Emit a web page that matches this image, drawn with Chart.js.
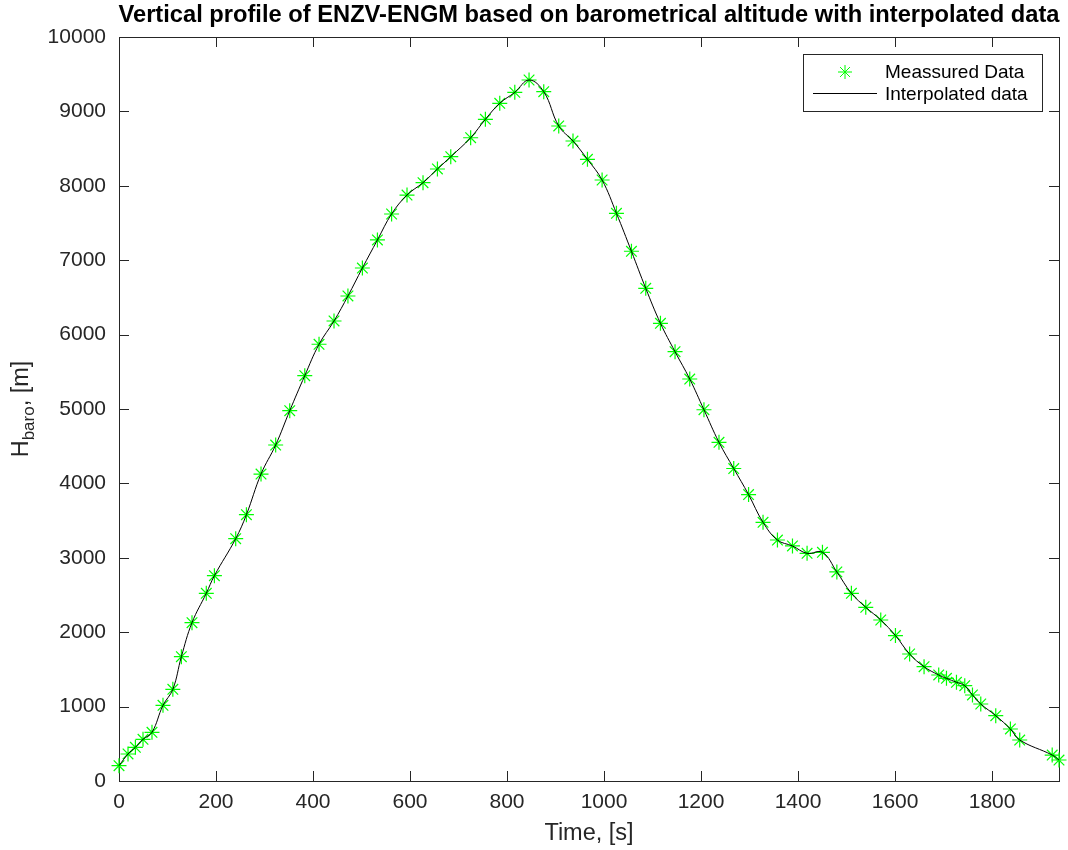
<!DOCTYPE html>
<html><head><meta charset="utf-8">
<script src="https://cdn.jsdelivr.net/npm/chart.js@4.4.1/dist/chart.umd.min.js"></script>
<style>html,body{margin:0;padding:0;background:#fff;}#wrap{width:1068px;height:850px;position:relative;}</style>
</head><body><div id="wrap"><canvas id="c" width="1068" height="850"></canvas></div>
<script>
// ---- data ----
const timeS = [0, 18.6, 33.8, 49.5, 68, 90.7, 111, 128.6, 150.5, 180, 196.7, 240.6, 262.7, 292.8, 323, 352, 383, 412.4, 443.3, 472, 501.8, 532.8, 562, 593.8, 626.8, 656.5, 684, 725, 755.4, 785, 816, 845.4, 875.7, 906.6, 936, 965.8, 996, 1025.6, 1056.5, 1086, 1116.3, 1146.4, 1176.7, 1206, 1237, 1267.4, 1298, 1327.8, 1357.5, 1388.5, 1418.6, 1450.3, 1480, 1510, 1539.6, 1570.5, 1600.8, 1630, 1659.8, 1690, 1706, 1726.6, 1743.7, 1759.6, 1776.7, 1807.6, 1837.8, 1857, 1924, 1938];
const altitudeM = [206, 363, 453, 560, 654, 1017, 1232, 1671, 2128, 2523, 2760, 3257, 3580, 4126, 4516, 4977, 5448, 5870, 6183, 6519, 6895, 7272, 7621, 7876, 8042, 8226, 8391, 8646, 8894, 9109, 9256, 9422, 9265, 8804, 8602, 8356, 8078, 7630, 7120, 6622, 6152, 5770, 5403, 4990, 4552, 4200, 3850, 3477, 3239, 3159, 3060, 3074, 2810, 2523, 2335, 2164, 1955, 1707, 1536, 1425, 1380, 1327, 1281, 1156, 1035, 878, 699, 551, 349, 282];
const xTicks = [0, 200, 400, 600, 800, 1000, 1200, 1400, 1600, 1800];
const yTicks = [0, 1000, 2000, 3000, 4000, 5000, 6000, 7000, 8000, 9000, 10000];
const xRange = [0, 1938];
const yRange = [0, 10000];
const titleText = 'Vertical profile of ENZV-ENGM based on barometrical altitude with interpolated data';
const xLabel = 'Time, [s]';
const yLabelMain = 'H', yLabelSub = 'baro', yLabelTail = ', [m]';
const legendLabels = ['Meassured Data', 'Interpolated data'];

// ---- styling ----
const FONT = '"Liberation Sans", Arial, Helvetica, sans-serif';
const AXC = '#262626';
const points = timeS.map((t, i) => ({x: t, y: altitudeM[i]}));

function drawStar(ctx, x, y, r) {
  ctx.beginPath();
  for (let k = 0; k < 4; k++) {
    const a = k * Math.PI / 4;
    ctx.moveTo(x - r * Math.cos(a), y - r * Math.sin(a));
    ctx.lineTo(x + r * Math.cos(a), y + r * Math.sin(a));
  }
  ctx.stroke();
}

const decor = {
  id: 'decor',
  beforeDatasetsDraw(chart) {
    const {ctx, chartArea: a, scales: {x, y}} = chart;
    ctx.save();
    ctx.strokeStyle = AXC;
    ctx.lineWidth = 1;
    ctx.strokeRect(Math.round(a.left) + 0.5, Math.round(a.top) + 0.5, Math.round(a.right - a.left), Math.round(a.bottom - a.top));
    ctx.beginPath();
    const L = 10;
    xTicks.forEach(v => {
      const px = Math.round(x.getPixelForValue(v)) + 0.5;
      ctx.moveTo(px, a.bottom); ctx.lineTo(px, a.bottom - L);
      ctx.moveTo(px, a.top); ctx.lineTo(px, a.top + L);
    });
    yTicks.forEach(v => {
      const py = Math.round(y.getPixelForValue(v)) + 0.5;
      ctx.moveTo(a.left, py); ctx.lineTo(a.left + L, py);
      ctx.moveTo(a.right, py); ctx.lineTo(a.right - L, py);
    });
    ctx.stroke();
    ctx.restore();
  },
  afterDraw(chart) {
    const {ctx, chartArea: a} = chart;
    const cx = (a.left + a.right) / 2;
    ctx.save();
    // title
    ctx.fillStyle = '#000';
    ctx.font = 'bold 23.7px ' + FONT;
    ctx.textAlign = 'center';
    ctx.textBaseline = 'alphabetic';
    ctx.fillText(titleText, cx, 22);
    // x label
    ctx.fillStyle = AXC;
    ctx.font = '23.5px ' + FONT;
    ctx.fillText(xLabel, cx, 840);
    // y label with subscript
    ctx.translate(28, (a.top + a.bottom) / 2);
    ctx.rotate(-Math.PI / 2);
    ctx.textAlign = 'left';
    const fMain = '23.5px ' + FONT, fSub = '17px ' + FONT;
    ctx.font = fMain; const w1 = ctx.measureText(yLabelMain).width; const w3 = ctx.measureText(yLabelTail).width;
    ctx.font = fSub; const w2 = ctx.measureText(yLabelSub).width;
    let sx = -(w1 + w2 + w3) / 2;
    ctx.font = fMain; ctx.fillText(yLabelMain, sx, 0); sx += w1;
    ctx.font = fSub; ctx.fillText(yLabelSub, sx, 6); sx += w2;
    ctx.font = fMain; ctx.fillText(yLabelTail, sx, 0);
    ctx.restore();
    // legend
    ctx.save();
    const bx = 803.5, by = 54.5, bw = 239, bh = 57;
    ctx.fillStyle = '#fff';
    ctx.fillRect(bx, by, bw, bh);
    ctx.strokeStyle = AXC; ctx.lineWidth = 1;
    ctx.strokeRect(bx, by, bw, bh);
    ctx.strokeStyle = '#00ff00';
    drawStar(ctx, 845, 72, 7);
    ctx.strokeStyle = '#000';
    ctx.beginPath(); ctx.moveTo(813, 93.5); ctx.lineTo(877, 93.5); ctx.stroke();
    ctx.fillStyle = '#000';
    ctx.font = '19px ' + FONT;
    ctx.textAlign = 'left'; ctx.textBaseline = 'middle';
    ctx.fillText(legendLabels[0], 885, 73);
    ctx.fillText(legendLabels[1], 885, 95);
    ctx.restore();
  }
};

new Chart(document.getElementById('c'), {
  type: 'line',
  data: {
    datasets: [
      {
        label: legendLabels[0], data: points, showLine: false,
        pointStyle: 'star', pointRadius: 7.5, pointBorderWidth: 1.2,
        pointBorderColor: '#00ff00', pointBackgroundColor: '#00ff00',
        pointHoverRadius: 7.5, clip: false, order: 2
      },
      {
        label: legendLabels[1], data: points, showLine: true,
        borderColor: '#000', borderWidth: 1, tension: 0.4,
        pointRadius: 0, pointHoverRadius: 0, fill: false, clip: false, order: 1
      }
    ]
  },
  options: {
    responsive: false, animation: false, devicePixelRatio: 1,
    events: [],
    layout: {padding: {left: 0, top: 37, right: 9, bottom: 0}},
    plugins: {legend: {display: false}, title: {display: false}, tooltip: {enabled: false}},
    scales: {
      x: {
        type: 'linear', min: xRange[0], max: xRange[1],
        grid: {display: false, drawTicks: false}, border: {display: false},
        afterBuildTicks: s => { s.ticks = xTicks.map(v => ({value: v})); },
        afterFit: s => { s.height = 69; },
        ticks: {color: AXC, font: {family: FONT, size: 21}, padding: 9, maxRotation: 0, autoSkip: false, callback: v => String(v)}
      },
      y: {
        type: 'linear', min: yRange[0], max: yRange[1],
        grid: {display: false, drawTicks: false}, border: {display: false},
        afterBuildTicks: s => { s.ticks = yTicks.map(v => ({value: v})); },
        afterFit: s => { s.width = 119; },
        ticks: {color: AXC, font: {family: FONT, size: 21}, padding: 13, autoSkip: false, callback: v => String(v)}
      }
    }
  },
  plugins: [decor]
});
</script></body></html>
